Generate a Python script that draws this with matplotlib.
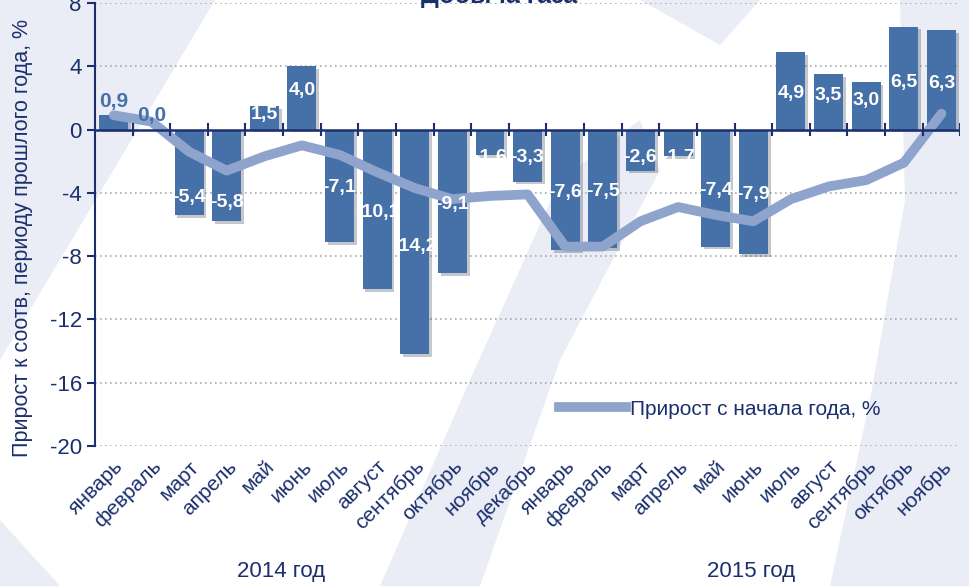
import numpy as np
import matplotlib.pyplot as plt
import matplotlib.patheffects as pe
from matplotlib.patches import Polygon
from matplotlib.lines import Line2D

# months Jan 2014 - Nov 2015
months = ['январь', 'февраль', 'март', 'апрель', 'май', 'июнь', 'июль', 'август',
          'сентябрь', 'октябрь', 'ноябрь', 'декабрь',
          'январь', 'февраль', 'март', 'апрель', 'май', 'июнь', 'июль', 'август',
          'сентябрь', 'октябрь', 'ноябрь']
years = ['2014 год', '2015 год']

# growth vs same period of previous year, %
monthly = [0.9, 0.0, -5.4, -5.8, 1.5, 4.0, -7.1, -10.1, -14.2, -9.1, -1.6, -3.3,
           -7.6, -7.5, -2.6, -1.7, -7.4, -7.9, 4.9, 3.5, 3.0, 6.5, 6.3]
# growth since start of year, %
ytd = [0.9, 0.5, -1.4, -2.6, -1.7, -1.0, -1.6, -2.7, -3.7, -4.4, -4.2, -4.1,
       -7.4, -7.4, -5.8, -4.9, -5.4, -5.8, -4.4, -3.6, -3.2, -2.1, 1.0]

navy = '#1b2f6e'
bar_c = '#4671a8'
line_c = '#8ea4cc'
plt.rcParams['font.family'] = ['Liberation Sans Narrow', 'Liberation Sans', 'DejaVu Sans']
plt.rcParams['axes.unicode_minus'] = False

W, H = 969, 586
fig = plt.figure(figsize=(W / 100, H / 100), dpi=100)

# faint watermark in the background (pixel coords, top-left origin)
bgax = fig.add_axes([0, 0, 1, 1], zorder=-10)
bgax.set_xlim(0, W)
bgax.set_ylim(H, 0)
bgax.axis('off')
bg = '#eaedf5'
shapes = [
    [(0, 0), (215, 0), (0, 360)],
    [(0, 520), (60, 586), (0, 586)],
    [(380, 586), (470, 380), (560, 180), (640, 120), (660, 170), (560, 360), (480, 586)],
    [(900, 0), (969, 0), (969, 586), (830, 586), (870, 400), (905, 200)],
    [(640, 0), (760, 0), (720, 45)],
]
for s in shapes:
    bgax.add_patch(Polygon(s, closed=True, color=bg, lw=0))

ax = fig.add_axes([0.098, 0.239, 0.893, 0.756], zorder=1)
ax.set_facecolor('none')

x = np.arange(len(monthly))
ax.bar(x, monthly, width=0.77, color=bar_c, zorder=3,
       path_effects=[pe.SimplePatchShadow(offset=(2, -2), alpha=0.25), pe.Normal()])
ax.plot(x, ytd, color=line_c, lw=7, solid_capstyle='round', solid_joinstyle='round', zorder=4)

# value labels
for xi, v in zip(x, monthly):
    txt = f'{v:.1f}'.replace('.', ',')
    if abs(v) < 1:
        ax.text(xi, v + 0.3, txt, ha='center', va='bottom', color=bar_c,
                fontsize=15, fontweight='bold', zorder=6)
    else:
        if v > 0:
            y = v * 0.62 if v < 4.5 else v * 0.46
        elif v > -4:
            y = -1.8
        elif v > -6:
            y = v * 0.8
        else:
            y = v * 0.52
        ax.text(xi, y, txt, ha='center', va='center', color='white',
                fontsize=14, fontweight='bold', zorder=6)

ax.set_xlim(-0.5, len(monthly) - 0.5)
ax.set_ylim(-20, 8)
ax.set_yticks(np.arange(-20, 9, 4))
ax.tick_params(axis='y', colors=navy, labelsize=16, length=6, width=1.5, direction='out')
for yv in np.arange(-20, 9, 4):
    if yv != 0:
        ax.axhline(yv, color='#aaaaaa', lw=1.2, ls=(0, (1, 2)), zorder=1)

for s in ['top', 'right', 'bottom']:
    ax.spines[s].set_visible(False)
ax.spines['left'].set_color(navy)
ax.spines['left'].set_linewidth(1.5)
ax.axhline(0, color=navy, lw=1.8, zorder=5)
for b in np.arange(0.5, len(monthly), 1):
    ax.plot([b, b], [-0.35, 0.35], color=navy, lw=1.5, zorder=5)

ax.set_xticks(x)
ax.set_xticklabels(months, rotation=45, ha='right', rotation_mode='anchor',
                   fontsize=15, color=navy)
ax.tick_params(axis='x', length=0, pad=8)

ax.set_ylabel('Прирост к соотв, периоду прошлого года, %', color=navy, fontsize=15.5)
ax.yaxis.set_label_coords(-0.072, 0.47)

fig.text(0.29, 0.025, years[0], ha='center', va='center', color=navy, fontsize=16)
fig.text(0.775, 0.025, years[1], ha='center', va='center', color=navy, fontsize=16)

fig.text(0.515, 1.008, 'Добыча газа', ha='center', va='center', color=navy,
         fontsize=18, fontweight='bold', family=['Liberation Sans', 'DejaVu Sans'])

h = Line2D([], [], color=line_c, lw=7)
ax.legend([h], ['Прирост с начала года, %'], loc='center left', bbox_to_anchor=(0.515, 0.083),
          frameon=False, fontsize=15, labelcolor=navy, handlelength=3.2, handletextpad=0.2)

fig.savefig('out.png', dpi=100)
